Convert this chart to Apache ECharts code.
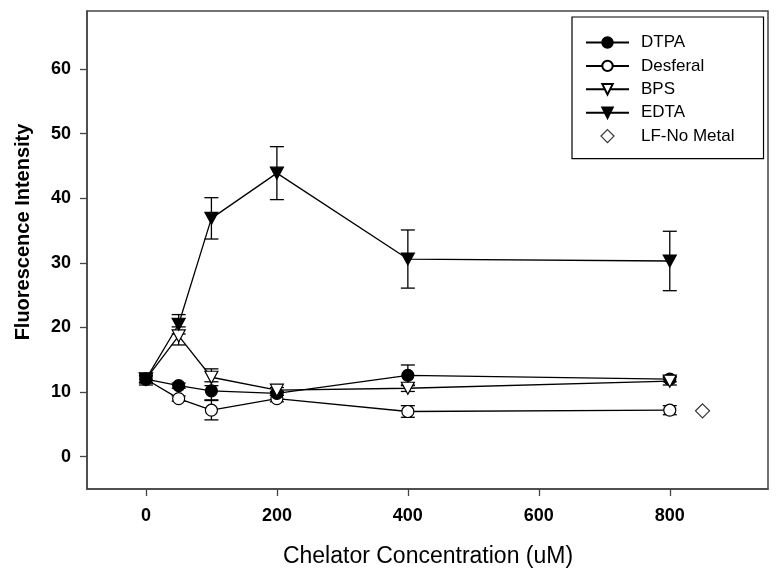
<!DOCTYPE html>
<html>
<head>
<meta charset="utf-8">
<script src="https://cdn.jsdelivr.net/npm/echarts@6/dist/echarts.min.js"></script>
<style>html,body{margin:0;padding:0;background:#fff}#c{width:779px;height:577px}</style>
</head>
<body>
<div id="c"></div>
<script>
const concentrations = [0, 50, 100, 200, 400, 800];
const dtpa = [12.0, 11.0, 10.2, 9.8, 12.6, 12.0];
const dtpaErr = [0.5, 0.4, 1.4, 0.3, 1.6, 0.4];
const desferal = [12.0, 9.0, 7.2, 9.0, 7.0, 7.2];
const desferalErr = [0.5, 0.4, 1.5, 0.5, 0.9, 0.7];
const bps = [12.0, 18.7, 12.3, 10.3, 10.6, 11.7];
const bpsErr = [0.6, 1.4, 1.3, 0.4, 0.5, 0.6];
const edta = [12.0, 20.5, 36.9, 43.9, 30.6, 30.3];
const edtaErr = [0.9, 1.5, 3.2, 4.1, 4.5, 4.6];
const lfNoMetalX = [850];
const lfNoMetal = [7.1];
const xTicks = [0, 200, 400, 600, 800];
const yTicks = [0, 10, 20, 30, 40, 50, 60];
const seriesNames = ['DTPA', 'Desferal', 'BPS', 'EDTA', 'LF-No Metal'];

const FONT = "'Liberation Sans', Arial, sans-serif";
const AX = '#444';
const chart = echarts.init(document.getElementById('c'), null, {renderer: 'canvas'});

function pairs(xs, ys) { return xs.map((x, i) => [x, ys[i]]); }
function triples(xs, ys, es) { return xs.map((x, i) => [x, ys[i], es[i]]); }

function errItem(params, api) {
  const x = api.value(0), y = api.value(1), e = api.value(2);
  const top = api.coord([x, y + e]);
  const bot = api.coord([x, y - e]);
  const w = 7;
  const st = {stroke: '#000', lineWidth: 1.3};
  return {type: 'group', children: [
    {type: 'line', shape: {x1: top[0], y1: top[1], x2: bot[0], y2: bot[1]}, style: st},
    {type: 'line', shape: {x1: top[0] - w, y1: top[1], x2: top[0] + w, y2: top[1]}, style: st},
    {type: 'line', shape: {x1: bot[0] - w, y1: bot[1], x2: bot[0] + w, y2: bot[1]}, style: st}
  ]};
}

function errSeries(name, ys, es) {
  return {type: 'custom', name: name + ' err', renderItem: errItem, data: triples(concentrations, ys, es),
    z: 1, silent: true, clip: false, encode: {x: 0, y: 1}};
}

function lineSeries(name, ys, symbol, fill, rotate, size) {
  return {type: 'line', name: name, data: pairs(concentrations, ys), symbol: symbol, symbolSize: size,
    symbolRotate: rotate, showAllSymbol: true, color: '#000',
    lineStyle: {color: '#000', width: 1.3},
    itemStyle: {color: fill, borderColor: '#000', borderWidth: 1.2},
    z: 3, animation: false};
}

const legendItems = seriesNames.map(n => n === 'LF-No Metal'
  ? {name: n, icon: 'path://M5,0L10,5L5,10L0,5Z', itemStyle: {color: '#fff', borderColor: '#000', borderWidth: 1.2}}
  : {name: n});

chart.setOption({
  animation: false,
  backgroundColor: '#fff',
  grid: {left: 87, top: 11, right: 11, bottom: 88, show: true, borderColor: AX, borderWidth: 1.5, backgroundColor: 'transparent'},
  xAxis: {
    type: 'value', min: -90, max: 950,
    axisLine: {show: true, onZero: false, lineStyle: {color: AX, width: 1.5}},
    axisTick: {show: true, inside: false, length: 7, customValues: xTicks, lineStyle: {color: AX, width: 1.3}},
    axisLabel: {customValues: xTicks, margin: 18, color: '#000', fontWeight: 'bold', fontSize: 18, fontFamily: FONT},
    splitLine: {show: false}
  },
  yAxis: {
    type: 'value', min: -5, max: 69,
    axisLine: {show: true, onZero: false, lineStyle: {color: AX, width: 1.5}},
    axisTick: {show: true, inside: false, length: 7, customValues: yTicks, lineStyle: {color: AX, width: 1.3}},
    axisLabel: {customValues: yTicks, margin: 16, color: '#000', fontWeight: 'bold', fontSize: 18, fontFamily: FONT},
    splitLine: {show: false}
  },
  legend: {
    data: legendItems,
    orient: 'vertical', left: 572, top: 17,
    borderColor: '#000', borderWidth: 1.2, padding: [17, 29, 14, 13],
    itemWidth: 43, itemHeight: 13, itemGap: 6.4, symbolKeepAspect: true,
    textStyle: {fontSize: 17, lineHeight: 17, color: '#000', fontFamily: FONT, padding: [0, 0, 0, 7]},
    selectedMode: false
  },
  graphic: [
    {type: 'text', x: 23, y: 232, rotation: Math.PI / 2,
      style: {text: 'Fluorescence Intensity', font: "bold 20px 'Liberation Sans', Arial, sans-serif", fill: '#000', textAlign: 'center', textVerticalAlign: 'middle'}},
    {type: 'text', x: 428, y: 557,
      style: {text: 'Chelator Concentration (uM)', font: "23px 'Liberation Sans', Arial, sans-serif", fill: '#000', textAlign: 'center', textVerticalAlign: 'middle'}}
  ],
  series: [
    errSeries('DTPA', dtpa, dtpaErr),
    errSeries('Desferal', desferal, desferalErr),
    errSeries('BPS', bps, bpsErr),
    errSeries('EDTA', edta, edtaErr),
    lineSeries('Desferal', desferal, 'circle', '#fff', 0, 12),
    lineSeries('DTPA', dtpa, 'circle', '#000', 0, 12),
    lineSeries('BPS', bps, 'triangle', '#fff', 180, [13, 12]),
    lineSeries('EDTA', edta, 'triangle', '#000', 180, [13, 12]),
    {type: 'scatter', name: 'LF-No Metal', data: pairs(lfNoMetalX, lfNoMetal), symbol: 'diamond', symbolSize: 14,
      itemStyle: {color: '#fff', borderColor: '#000', borderWidth: 1.2}, z: 3}
  ]
});
</script>
</body>
</html>
